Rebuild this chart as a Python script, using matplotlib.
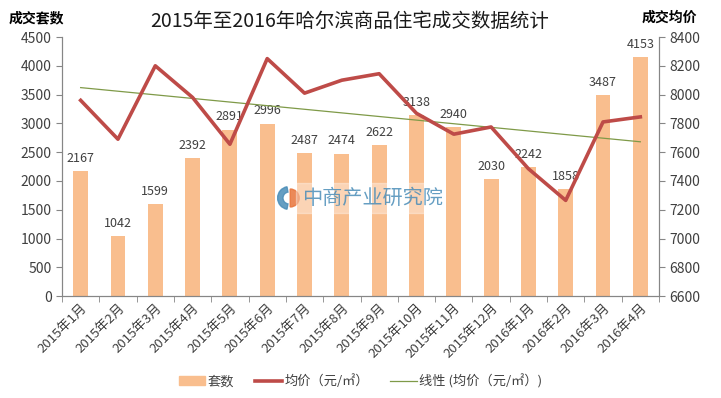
import numpy as np
import matplotlib
matplotlib.use("Agg")
import matplotlib.pyplot as plt
from matplotlib.lines import Line2D
from matplotlib.patches import Patch, Wedge

plt.rcParams['font.family'] = ['Noto Sans CJK SC', 'DejaVu Sans']

# data
months = ['2015年1月', '2015年2月', '2015年3月', '2015年4月', '2015年5月', '2015年6月',
          '2015年7月', '2015年8月', '2015年9月', '2015年10月', '2015年11月', '2015年12月',
          '2016年1月', '2016年2月', '2016年3月', '2016年4月']
units = [2167, 1042, 1599, 2392, 2891, 2996, 2487, 2474, 2622, 3138, 2940, 2030,
         2242, 1858, 3487, 4153]
price = [7960, 7690, 8200, 7980, 7655, 8250, 8010, 8100, 8145, 7870, 7725, 7775,
         7485, 7265, 7810, 7845]

bar_col = '#F9BE8E'
line_col = '#BE4B48'
trend_col = '#7F9A48'
txt_col = '#404040'
spine_col = '#868686'

fig = plt.figure(figsize=(7.21, 3.98), dpi=100)
ax = fig.add_axes([0.086, 0.256, 0.828, 0.651])
ax2 = ax.twinx()

x = np.arange(len(months))
ax.bar(x, units, width=0.4, color=bar_col, zorder=2)
for xi, v in zip(x, units):
    ax.text(xi, v + 110, str(v), ha='center', va='bottom', fontsize=9, color=txt_col)

# linear trend of the price series
k, b = np.polyfit(x, price, 1)
ax2.plot(x, k * x + b, color=trend_col, lw=0.9, zorder=3)
ax2.plot(x, price, color=line_col, lw=2.6, zorder=4)

ax.set_xlim(-0.5, len(months) - 0.5)
ax.set_ylim(0, 4500)
ax.set_yticks(np.arange(0, 4501, 500))
ax2.set_ylim(6600, 8400)
ax2.set_yticks(np.arange(6600, 8401, 200))

ax.set_xticks(x)
ax.set_xticklabels(months, rotation=45, ha='right', rotation_mode='anchor',
                   fontsize=9.5, color=txt_col)
ax.set_xticks(np.arange(-0.5, len(months), 1), minor=True)
ax.tick_params(axis='x', which='major', length=0, pad=4)
ax.tick_params(axis='x', which='minor', length=4, color=spine_col)
ax.tick_params(axis='y', length=4, color=spine_col, labelsize=10, labelcolor=txt_col)
ax2.tick_params(axis='y', length=4, color=spine_col, labelsize=10, labelcolor=txt_col)

for a in (ax, ax2):
    a.spines['top'].set_visible(False)
    for s in ('left', 'right', 'bottom'):
        a.spines[s].set_color(spine_col)

# watermark: logo + name on a faint white box
fig.patches.append(plt.Rectangle((296 / 721, 1 - 213 / 398), 146 / 721, 30 / 398,
                                 transform=fig.transFigure, color='white', alpha=0.35,
                                 zorder=5))
fig.text(302 / 721, 1 - 198 / 398, '中商产业研究院', fontsize=14.5, color='#4A8DB8',
         alpha=0.85, ha='left', va='center', zorder=6)
lax = fig.add_axes([277 / 721, 1 - 210 / 398, 24 / 721, 24 / 398])
lax.set_xlim(-1, 1)
lax.set_ylim(-1, 1)
lax.set_aspect('equal')
lax.axis('off')
lax.add_patch(Wedge((0, 0), 0.95, 100, 260, width=0.45, color='#4A8DB8', alpha=0.85))
lax.add_patch(Wedge((0.1, 0), 0.75, -90, 90, color='#E8743B', alpha=0.85))

fig.text(0.485, 0.945, '2015年至2016年哈尔滨商品住宅成交数据统计', fontsize=14,
         ha='center', va='center', color='#1a1a1a')
fig.text(0.012, 0.955, '成交套数', fontsize=10, fontweight='bold', ha='left', va='center')
fig.text(0.967, 0.955, '成交均价', fontsize=10, fontweight='bold', ha='right', va='center')

handles = [Patch(color=bar_col), Line2D([], [], color=line_col, lw=2.6),
           Line2D([], [], color=trend_col, lw=0.9)]
labels = ['套数', '均价（元/㎡）', '线性 (均价（元/㎡）)']
fig.legend(handles, labels, loc='center', bbox_to_anchor=(0.5, 0.042), ncol=3,
           frameon=False, fontsize=9.5, handlelength=2.0, handletextpad=0.2,
           columnspacing=1.6, labelcolor=txt_col)

fig.savefig('out.png', dpi=100)
